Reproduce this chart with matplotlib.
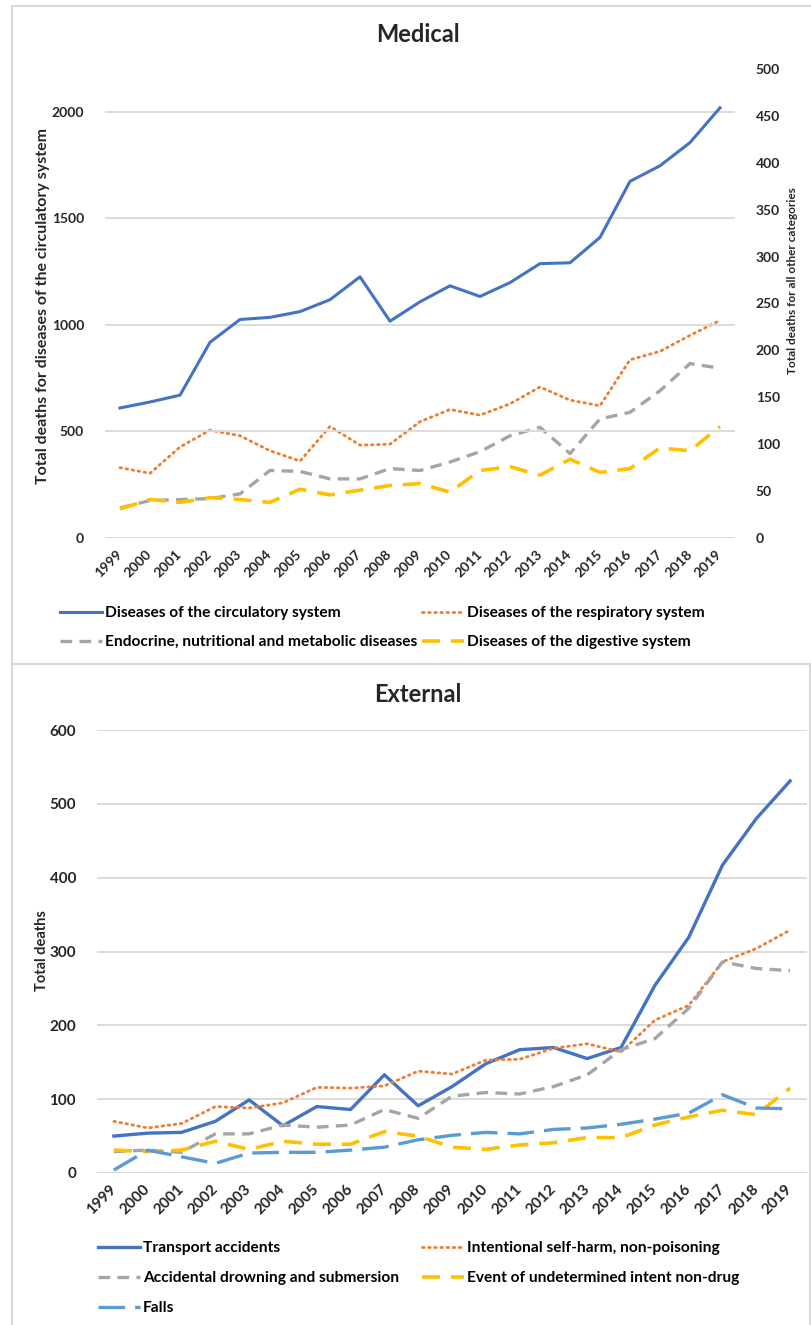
import matplotlib
matplotlib.use("Agg")
import matplotlib.pyplot as plt
from matplotlib.patches import Rectangle

plt.rcParams['font.family'] = ['Lato', 'DejaVu Sans']

years = [str(y) for y in range(1999, 2020)]

# Medical causes (circulatory on the left axis, all others on the right axis)
circulatory = [610, 638, 670, 918, 1025, 1035, 1062, 1118, 1225, 1017, 1108,
               1183, 1133, 1198, 1287, 1291, 1410, 1673, 1746, 1855, 2018]
respiratory = [75, 69, 97, 115, 109, 93, 82, 119, 99, 100, 124,
               137, 131, 143, 161, 147, 141, 190, 199, 216, 232]
endocrine = [32, 40, 41, 42, 47, 72, 71, 63, 63, 74, 72,
             81, 92, 109, 118, 90, 127, 134, 157, 186, 181]
digestive = [31, 41, 38, 43, 41, 38, 52, 46, 51, 56, 58,
             49, 72, 76, 67, 84, 70, 74, 96, 93, 119]

# External causes
transport = [50, 54, 55, 70, 99, 64, 90, 86, 133, 91, 117,
             148, 167, 170, 155, 170, 254, 319, 417, 480, 531]
self_harm = [70, 61, 67, 90, 88, 95, 116, 115, 118, 138, 134,
             153, 154, 169, 175, 164, 207, 227, 286, 304, 329]
drowning = [29, 31, 28, 53, 53, 65, 62, 65, 86, 74, 104,
            109, 107, 117, 133, 167, 182, 223, 286, 277, 274]
undetermined = [31, 29, 31, 43, 32, 43, 39, 39, 56, 50, 35,
                32, 38, 41, 48, 48, 65, 76, 85, 79, 115]
falls = [4, 31, 22, 13, 27, 28, 28, 31, 35, 45, 51,
         55, 53, 59, 61, 66, 73, 81, 106, 88, 87]

C_BLUE = '#4472C4'
C_ORANGE = '#ED7D31'
C_GRAY = '#A5A5A5'
C_YELLOW = '#FFC000'
C_LBLUE = '#5B9BD5'
GRID = '#D9D9D9'
TXT = '#262626'

W, H = 812, 1325
fig = plt.figure(figsize=(W / 100, H / 100), dpi=100)


def fx(px):
    return px / W


def fy(py):
    return 1 - py / H


# panel frames
fig.add_artist(Rectangle((fx(12), fy(664)), fx(820) - fx(12), fy(6) - fy(664),
                         transform=fig.transFigure, fill=False,
                         edgecolor=GRID, lw=1.5))
fig.add_artist(Rectangle((fx(12), fy(1330)), fx(810) - fx(12), fy(664) - fy(1330),
                         transform=fig.transFigure, fill=False,
                         edgecolor=GRID, lw=1.5))

x = list(range(len(years)))


def style_axis(ax, size):
    for s in ax.spines.values():
        s.set_visible(False)
    ax.tick_params(length=0, labelsize=size, colors=TXT)
    ax.grid(axis='y', color=GRID, lw=1.3)
    ax.set_axisbelow(True)
    ax.set_xlim(-0.5, len(years) - 0.5)
    ax.set_xticks(x)
    ax.set_xticklabels(years, rotation=45, ha='right', va='center',
                       rotation_mode='anchor', fontweight='bold')
    for lab in ax.get_yticklabels():
        lab.set_fontweight('bold')


def add_legend_entry(handle, label, xpx, ypx):
    fig.legend([handle], [label], loc='center left',
               bbox_to_anchor=(fx(xpx), fy(ypx)), frameon=False,
               handlelength=2.7, handletextpad=0.2, borderpad=0,
               borderaxespad=0,
               prop={'weight': 'bold', 'size': 11.2})


# ---------------- Medical ----------------
ax1 = fig.add_axes([fx(105), fy(538), fx(735) - fx(105), fy(69) - fy(538)])
ax2 = ax1.twinx()
ax1.set_ylim(0, 2200)
ax1.set_yticks([0, 500, 1000, 1500, 2000])
ax2.set_ylim(0, 500)
ax2.set_yticks(range(0, 501, 50))
style_axis(ax1, 10)
for s in ax2.spines.values():
    s.set_visible(False)
ax2.tick_params(length=0, labelsize=10, colors=TXT, pad=15)
for lab in ax2.get_yticklabels():
    lab.set_fontweight('bold')
ax1.tick_params(axis='y', pad=15)
ax1.tick_params(axis='x', pad=10)

h_circ, = ax1.plot(x, circulatory, color=C_BLUE, lw=2.2)
h_resp, = ax2.plot(x, respiratory, color=C_ORANGE, lw=2.0, linestyle=(0, (0.6, 1.6)),
                   dash_capstyle='round')
h_endo, = ax2.plot(x, endocrine, color=C_GRAY, lw=2.4, linestyle=(0, (3.5, 2.2)))
h_dig, = ax2.plot(x, digestive, color=C_YELLOW, lw=2.6, linestyle=(0, (5, 3)))
ax1.set_zorder(ax2.get_zorder() + 1)
ax1.patch.set_visible(False)

fig.text(fx(418), fy(35), 'Medical', ha='center', va='center',
         fontsize=17, fontweight='bold', color=TXT)
fig.text(fx(43), fy(306), 'Total deaths for diseases of the circulatory system',
         rotation=90, ha='center', va='center', fontsize=11.5,
         fontweight='bold', color=TXT)
fig.text(fx(793), fy(281), 'Total deaths for all other categories',
         rotation=90, ha='center', va='center', fontsize=8.5,
         fontweight='bold', color=TXT)

add_legend_entry(h_circ, 'Diseases of the circulatory system', 60, 613)
add_legend_entry(h_resp, 'Diseases of the respiratory system', 422, 613)
add_legend_entry(h_endo, 'Endocrine, nutritional and metabolic diseases', 60, 642)
add_legend_entry(h_dig, 'Diseases of the digestive system', 422, 642)

# ---------------- External ----------------
ax3 = fig.add_axes([fx(97), fy(1173), fx(807) - fx(97), fy(730) - fy(1173)])
ax3.set_ylim(0, 600)
ax3.set_yticks(range(0, 601, 100))
style_axis(ax3, 11)
ax3.tick_params(axis='y', pad=15)
ax3.tick_params(axis='x', pad=10)

h_tr, = ax3.plot(x, transport, color=C_BLUE, lw=2.4)
h_sh, = ax3.plot(x, self_harm, color=C_ORANGE, lw=2.0, linestyle=(0, (0.6, 1.6)),
                 dash_capstyle='round')
h_dr, = ax3.plot(x, drowning, color=C_GRAY, lw=2.4, linestyle=(0, (3.5, 2.2)))
h_un, = ax3.plot(x, undetermined, color=C_YELLOW, lw=2.6, linestyle=(0, (5, 3)))
h_fa, = ax3.plot(x, falls, color=C_LBLUE, lw=2.4, linestyle=(0, (8, 3)))

fig.text(fx(418), fy(695), 'External', ha='center', va='center',
         fontsize=17, fontweight='bold', color=TXT)
fig.text(fx(42), fy(951), 'Total deaths', rotation=90, ha='center', va='center',
         fontsize=10.5, fontweight='bold', color=TXT)

add_legend_entry(h_tr, 'Transport accidents', 98, 1248)
add_legend_entry(h_sh, 'Intentional self-harm, non-poisoning', 422, 1248)
add_legend_entry(h_dr, 'Accidental drowning and submersion', 98, 1278)
add_legend_entry(h_un, 'Event of undetermined intent non-drug', 422, 1278)
add_legend_entry(h_fa, 'Falls', 98, 1308)

fig.savefig('out.png', dpi=100, facecolor='white')
